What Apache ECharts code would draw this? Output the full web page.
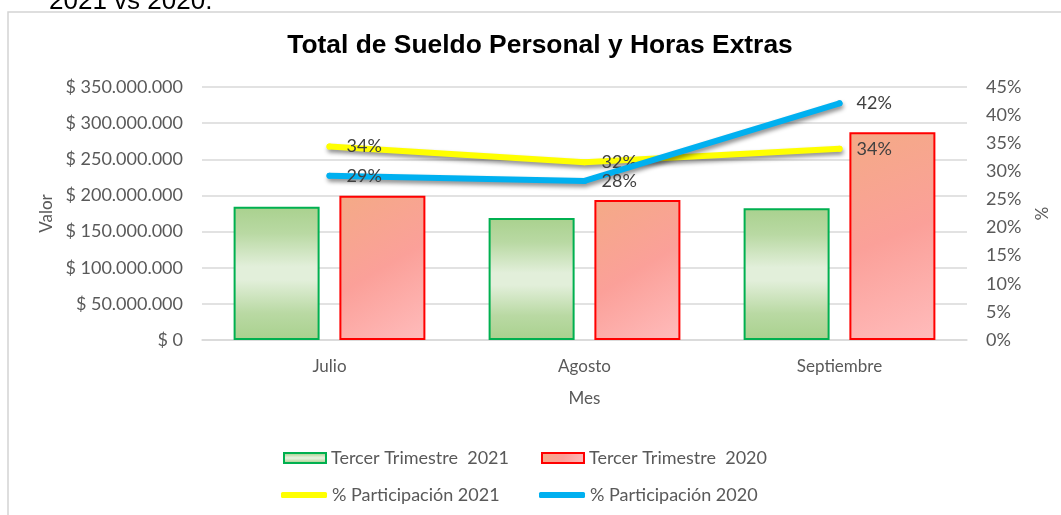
<!DOCTYPE html>
<html>
<head>
<meta charset="utf-8">
<script src="https://cdn.jsdelivr.net/npm/echarts@6/dist/echarts.min.js"></script>
<style>
html,body{margin:0;padding:0;background:#fff;}
#main{width:1061px;height:515px;}
</style>
</head>
<body>
<div id="main"></div>
<script>
const categories = ['Julio', 'Agosto', 'Septiembre'];
const sueldo2021 = [184400000, 168800000, 182200000];
const sueldo2020 = [199600000, 193700000, 287300000];
const part2021 = [34.4, 31.6, 34.0];
const part2020 = [29.2, 28.3, 42.1];
const seriesNames = ['Tercer Trimestre  2021', 'Tercer Trimestre  2020', '% Participación 2021', '% Participación 2020'];
const titleText = 'Total de Sueldo Personal y Horas Extras';

const FONT = 'Lato, "Open Sans", sans-serif';
const GRAY = '#595959';

function fmtMoney(v) {
  if (v === 0) return '$ 0';
  return '$ ' + String(v).replace(/\B(?=(\d{3})+(?!\d))/g, '.');
}

const greenFill = new echarts.graphic.LinearGradient(0, 0, 0, 1, [
  {offset: 0, color: '#A9D18E'},
  {offset: 0.2, color: '#B9D9A3'},
  {offset: 0.45, color: '#E2EFDA'},
  {offset: 0.55, color: '#E2EFDA'},
  {offset: 0.8, color: '#B9D9A3'},
  {offset: 1, color: '#A9D18E'}
]);
const redFill = new echarts.graphic.LinearGradient(0, 0, 1, 1, [
  {offset: 0, color: '#F4AA86'},
  {offset: 0.5, color: '#FBA099'},
  {offset: 1, color: '#FFBCBC'}
]);

const chart = echarts.init(document.getElementById('main'), null, {renderer: 'canvas'});
const lineShadow = {shadowColor: 'rgba(0,0,0,0.45)', shadowBlur: 4, shadowOffsetY: 3, shadowOffsetX: 1};
const legendText = {fontFamily: FONT, fontSize: 18, color: GRAY};

const option = {
  backgroundColor: '#fff',
  animation: false,
  title: {
    text: titleText,
    left: 535, top: 28, textAlign: 'center',
    textStyle: {fontFamily: '"Liberation Sans", Arial, sans-serif', fontWeight: 'bold', fontSize: 26.4, color: '#000'}
  },
  graphic: [
    {type: 'rect', shape: {x: 8, y: 12, width: 1100, height: 600}, style: {fill: 'none', stroke: '#D4D4D4', lineWidth: 1.5}, silent: true, z: -10},
    {type: 'text', style: {x: 49, y: 14.5, text: '2021 vs 2020.', font: '26px "Liberation Sans", Arial, sans-serif', fill: '#000', verticalAlign: 'bottom'}, silent: true}
  ],
  legend: [
    {left: 278, top: 444, itemWidth: 42, itemHeight: 10, icon: 'rect', data: [seriesNames[0]], textStyle: legendText},
    {left: 536, top: 444, itemWidth: 42, itemHeight: 10, icon: 'rect', data: [seriesNames[1]], textStyle: legendText},
    {left: 276, top: 481, itemWidth: 46, itemHeight: 6, icon: 'roundRect', data: [{name: seriesNames[2], itemStyle: {color: '#FFFF00'}}], textStyle: legendText},
    {left: 534, top: 481, itemWidth: 46, itemHeight: 6, icon: 'roundRect', data: [{name: seriesNames[3], itemStyle: {color: '#00B0F0'}}], textStyle: legendText}
  ],
  grid: {left: 202, right: 94, top: 87, bottom: 175, containLabel: false},
  xAxis: {
    type: 'category', data: categories,
    name: 'Mes', nameLocation: 'middle', nameGap: 50,
    nameTextStyle: {fontFamily: FONT, fontSize: 17, color: GRAY},
    axisLine: {lineStyle: {color: '#D9D9D9', width: 1.5}},
    axisTick: {show: false},
    axisLabel: {fontFamily: FONT, fontSize: 17, color: GRAY, margin: 18}
  },
  yAxis: [
    {
      type: 'value', min: 0, max: 350000000, interval: 50000000,
      name: 'Valor', nameLocation: 'middle', nameGap: 143, nameRotate: 90,
      nameTextStyle: {fontFamily: FONT, fontSize: 17, color: GRAY},
      axisLine: {show: false}, axisTick: {show: false},
      splitLine: {lineStyle: {color: '#D9D9D9', width: 1.5}},
      axisLabel: {fontFamily: FONT, fontSize: 18, color: GRAY, margin: 19, formatter: fmtMoney}
    },
    {
      type: 'value', min: 0, max: 45, interval: 5, position: 'right',
      name: '%', nameLocation: 'middle', nameGap: 63, nameRotate: -90,
      nameTextStyle: {fontFamily: FONT, fontSize: 17, color: GRAY},
      axisLine: {show: false}, axisTick: {show: false}, splitLine: {show: false},
      axisLabel: {fontFamily: FONT, fontSize: 18, color: GRAY, margin: 19, formatter: v => v + '%'}
    }
  ],
  series: [
    {
      name: seriesNames[0], type: 'bar', data: sueldo2021, barWidth: 86, barGap: '23%',
      itemStyle: {color: greenFill, borderColor: '#00B050', borderWidth: 2}
    },
    {
      name: seriesNames[1], type: 'bar', data: sueldo2020, barWidth: 86, barGap: '23%',
      itemStyle: {color: redFill, borderColor: '#FF0000', borderWidth: 2}
    },
    {
      name: seriesNames[2], type: 'line', yAxisIndex: 1, data: part2021, z: 5,
      symbol: 'circle', symbolSize: 6,
      itemStyle: {color: '#FFFF00'},
      lineStyle: Object.assign({color: '#FFFF00', width: 6, cap: 'round', join: 'round'}, lineShadow),
      label: {show: true, position: 'right', distance: 14, fontFamily: FONT, fontSize: 18, color: '#404040', formatter: p => Math.round(p.value) + '%'}
    },
    {
      name: seriesNames[3], type: 'line', yAxisIndex: 1, data: part2020, z: 6,
      symbol: 'circle', symbolSize: 6,
      itemStyle: {color: '#00B0F0'},
      lineStyle: Object.assign({color: '#00B0F0', width: 6, cap: 'round', join: 'round'}, lineShadow),
      label: {show: true, position: 'right', distance: 14, fontFamily: FONT, fontSize: 18, color: '#404040', formatter: p => Math.round(p.value) + '%'}
    }
  ]
};
chart.setOption(option);
</script>
</body>
</html>
